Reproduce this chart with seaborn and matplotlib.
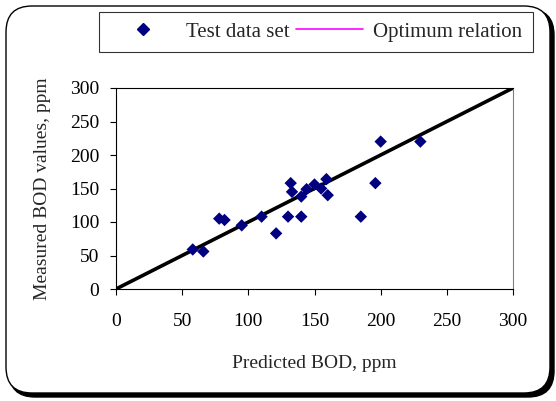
import matplotlib.pyplot as plt
import seaborn as sns
import pandas as pd
import numpy as np
from matplotlib.lines import Line2D
from matplotlib.patches import FancyBboxPatch
from matplotlib.transforms import IdentityTransform

# data
predicted = [58, 66, 78, 82, 95, 110, 121, 130, 132, 133, 140, 140, 144, 150,
             155, 159, 160, 185, 196, 200, 230]
measured = [59, 56, 105, 103, 95, 108, 83, 108, 158, 145, 108, 138, 149, 156,
            150, 164, 140, 108, 158, 220, 220]
optimum = [0, 300]

ticks = [0, 50, 100, 150, 200, 250, 300]

df = pd.DataFrame({'Predicted': predicted, 'Measured': measured})
df_opt = pd.DataFrame({'x': optimum, 'y': optimum})

sns.set_theme(style="white")
plt.rcParams['font.family'] = ['Liberation Serif', 'DejaVu Serif']

fig = plt.figure(figsize=(5.56, 4.01), dpi=100)

# rounded outer frame with shadow (pixel coords)
shadow = FancyBboxPatch((9, 4), 545, 388, boxstyle="round,pad=0,rounding_size=26",
                        transform=IdentityTransform(), facecolor='black',
                        edgecolor='black', zorder=0)
frame = FancyBboxPatch((6, 8), 544, 387, boxstyle="round,pad=0,rounding_size=26",
                       transform=IdentityTransform(), facecolor='white',
                       edgecolor='black', linewidth=1.0, zorder=1)
fig.patches.append(shadow)
fig.patches.append(frame)

ax = fig.add_axes([116 / 556, 1 - 289 / 401, 397 / 556, 201 / 401])
ax.set_zorder(2)

sns.lineplot(data=df_opt, x='x', y='y', ax=ax, color='black', linewidth=2.6)
sns.scatterplot(data=df, x='Predicted', y='Measured', ax=ax, marker='D',
                s=40, color='#000080', edgecolor='none', zorder=3)

ax.set_xlim(0, 300)
ax.set_ylim(0, 300)
ax.set_xticks(ticks)
ax.set_yticks(ticks)
ax.tick_params(axis='both', direction='out', length=4, width=0.8,
               labelsize=14, colors='black', bottom=True, left=True)
ax.tick_params(axis='x', pad=13)
ax.tick_params(axis='y', pad=8)
for side in ['left', 'bottom', 'top']:
    ax.spines[side].set_color('black')
    ax.spines[side].set_linewidth(0.8)
ax.spines['right'].set_color('#808080')
ax.spines['right'].set_linewidth(0.8)

ax.set_xlabel("Predicted BOD, ppm", fontsize=14, labelpad=18)
ax.set_ylabel("Measured BOD values, ppm", fontsize=14, labelpad=14)

handles = [
    Line2D([], [], marker='D', linestyle='none', color='#000080', markersize=6),
    Line2D([], [], color='#FF00FF', linewidth=1.2),
]
leg = fig.legend(handles, ['Test data set', 'Optimum relation'],
                 loc='center', bbox_to_anchor=(316 / 556, 1 - 32 / 401),
                 ncol=2, fontsize=15, frameon=True, fancybox=False,
                 edgecolor='black', handlelength=3.2, columnspacing=0.3,
                 handletextpad=0.5, borderpad=0.5, borderaxespad=0)
leg.get_frame().set_linewidth(0.8)
leg.set_zorder(3)

plt.savefig('out.png', dpi=100)
